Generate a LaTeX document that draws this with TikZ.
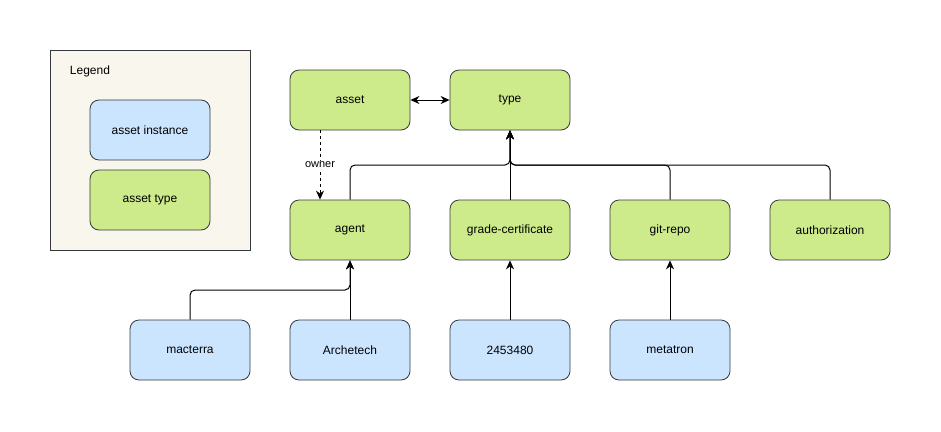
\documentclass[tikz,border=0pt]{standalone}
\usepackage{fontspec}
\setmainfont{Liberation Sans}
\usepackage{xcolor}
\usepackage{tikz}
\usetikzlibrary{arrows.meta, positioning}
\definecolor{typegreen}{HTML}{CDEB8B}
\definecolor{instblue}{HTML}{CCE5FF}
\definecolor{legendbg}{HTML}{F9F7ED}
\definecolor{edgegray}{HTML}{36393D}

\tikzset{
  box/.style={draw=edgegray, line width=0.8pt, rounded corners=9pt, minimum width=120pt, minimum height=60pt, inner sep=0pt, font=\fontsize{12}{14}\selectfont},
  typebox/.style={box, fill=typegreen},
  instbox/.style={box, fill=instblue},
  tip/.style={Stealth[length=9pt,width=8pt]},
  link/.style={draw=black, line width=1pt, rounded corners=5pt, -{Stealth[length=9pt,width=8pt]}}
}

\begin{document}
\begin{tikzpicture}[x=1pt, y=-1pt]
\useasboundingbox (0,0) rectangle (941,431);

% Legend
\draw[draw=edgegray, fill=legendbg, line width=0.8pt] (50,50) rectangle (250,250);
\node[font=\fontsize{12}{14}\selectfont] (legend) at (90,71) {Legend};
\node[instbox] (leginst) at (150,130) {asset instance};
\node[typebox] (legtype) at (150,200) {asset type};

% Asset types
\node[typebox] (asset) at (350,100) {asset};
\node[typebox] (type) at (510,100) {type};
\node[typebox] (agent) at (350,230) {agent};
\node[typebox] (grade) at (510,230) {grade-certificate};
\node[typebox] (gitrepo) at (670,230) {git-repo};
\node[typebox] (authz) at (830,230) {authorization};

% Asset instances
\node[instbox] (macterra) at (190,350) {macterra};
\node[instbox] (archetech) at (350,350) {Archetech};
\node[instbox] (cert) at (510,350) {2453480};
\node[instbox] (metatron) at (670,350) {metatron};

\coordinate (hub) at (510,165);
\coordinate (drop) at (350,290);

% Connectors
\draw[link, {Stealth[length=9pt,width=8pt]}-{Stealth[length=9pt,width=8pt]}] (asset.east) -- (type.west);
\draw[link, dashed] ([xshift=-30pt]asset.south) -- node[fill=white, inner sep=1pt, font=\fontsize{11}{13}\selectfont] (ownerlbl) {owner} ([xshift=-30pt]agent.north);
\draw[link] (agent.north) |- (hub) -- (type.south);
\draw[link] (grade.north) -- (type.south);
\draw[link] (gitrepo.north) |- (hub) -- (type.south);
\draw[link] (authz.north) |- (hub) -- (type.south);
\draw[link] (macterra.north) |- (drop) -- (agent.south);
\draw[link] (archetech.north) -- (agent.south);
\draw[link] (cert.north) -- (grade.south);
\draw[link] (metatron.north) -- (gitrepo.south);
\end{tikzpicture}
\end{document}
